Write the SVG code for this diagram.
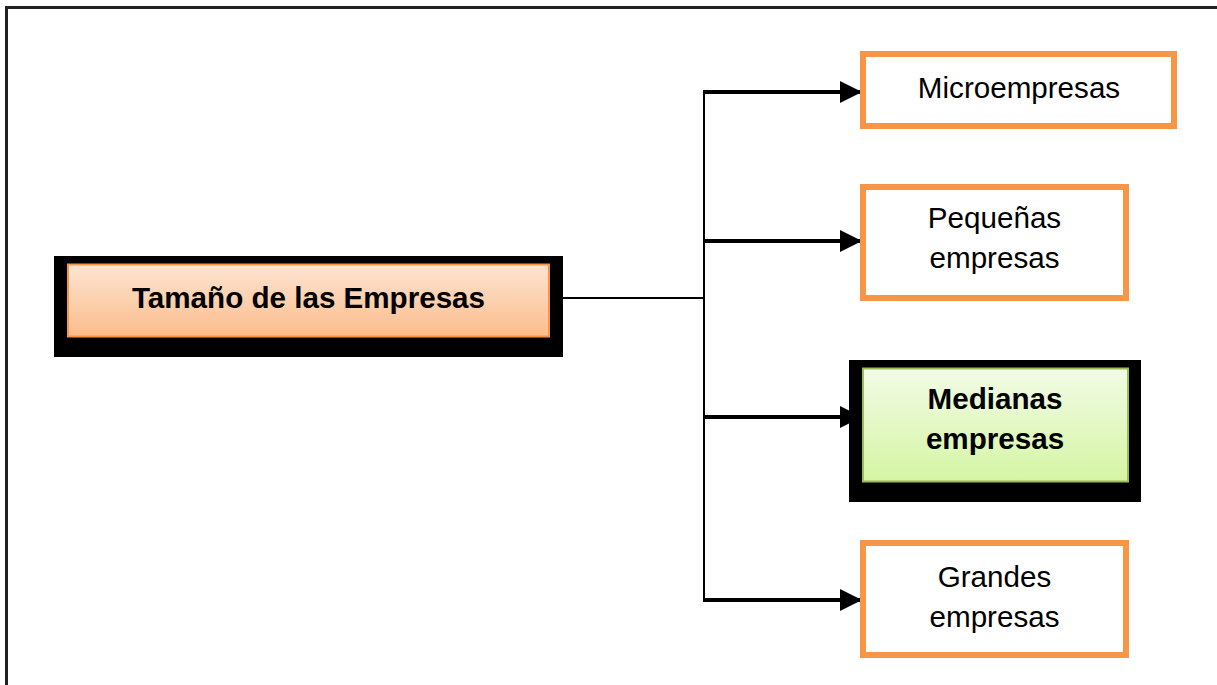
<svg xmlns="http://www.w3.org/2000/svg" width="1217" height="685" viewBox="0 0 1217 685">
<style>
.frame{fill:none;stroke:#222;stroke-width:3}
.shadow{fill:#000}
.obox{fill:#fff;stroke:#f79646;stroke-width:6}
.t{font-family:"Liberation Sans",Arial,sans-serif;font-size:29.6px;fill:#000;text-anchor:middle}
.b{font-weight:bold}
.ln{stroke:#000;fill:none}
</style>
<defs>
<linearGradient id="og" x1="0" y1="0" x2="0" y2="1">
<stop offset="0" stop-color="#fde4d2"/>
<stop offset="1" stop-color="#fbbd8b"/>
</linearGradient>
<linearGradient id="gg" x1="0" y1="0" x2="0" y2="1">
<stop offset="0" stop-color="#f2fbe6"/>
<stop offset="1" stop-color="#d5f5a3"/>
</linearGradient>
<marker id="ah" viewBox="0 0 10 10" refX="10" refY="5" markerWidth="22" markerHeight="22" markerUnits="userSpaceOnUse" orient="auto">
<path d="M0,0 L10,5 L0,10 z" fill="#000"/>
</marker>
</defs>
<path class="frame" d="M6.5,685 V7.5 H1217"/>
<g id="connectors">
<line class="ln" x1="549" y1="298" x2="704" y2="298" stroke-width="2"/>
<line class="ln" x1="704" y1="91" x2="704" y2="601" stroke-width="2"/>
<line class="ln" x1="703" y1="92" x2="862" y2="92" stroke-width="4" marker-end="url(#ah)"/>
<line class="ln" x1="703" y1="241" x2="862" y2="241" stroke-width="4" marker-end="url(#ah)"/>
<line class="ln" x1="703" y1="417" x2="862" y2="417" stroke-width="4" marker-end="url(#ah)"/>
<line class="ln" x1="703" y1="600" x2="862" y2="600" stroke-width="4" marker-end="url(#ah)"/>
</g>
<g id="tamano">
<rect class="shadow" x="54" y="256" width="509" height="101"/>
<rect x="68" y="264.5" width="481" height="72" fill="url(#og)" stroke="#f79646" stroke-width="2"/>
<text class="t b" x="308.5" y="308">Tamaño de las Empresas</text>
</g>
<g id="micro">
<rect class="obox" x="863" y="54" width="311" height="72"/>
<text class="t" x="1019" y="98">Microempresas</text>
</g>
<g id="pequenas">
<rect class="obox" x="863" y="187" width="263" height="111"/>
<text class="t" x="994.5" y="228">Pequeñas</text>
<text class="t" x="994.5" y="268">empresas</text>
</g>
<g id="medianas">
<rect class="shadow" x="849" y="360" width="292" height="142"/>
<rect x="863" y="368.5" width="265" height="113" fill="url(#gg)" stroke="#9bbb59" stroke-width="2"/>
<text class="t b" x="995" y="409">Medianas</text>
<text class="t b" x="995" y="449">empresas</text>
</g>
<g id="grandes">
<rect class="obox" x="863" y="543" width="263" height="112"/>
<text class="t" x="994.5" y="587">Grandes</text>
<text class="t" x="994.5" y="627">empresas</text>
</g>
</svg>
